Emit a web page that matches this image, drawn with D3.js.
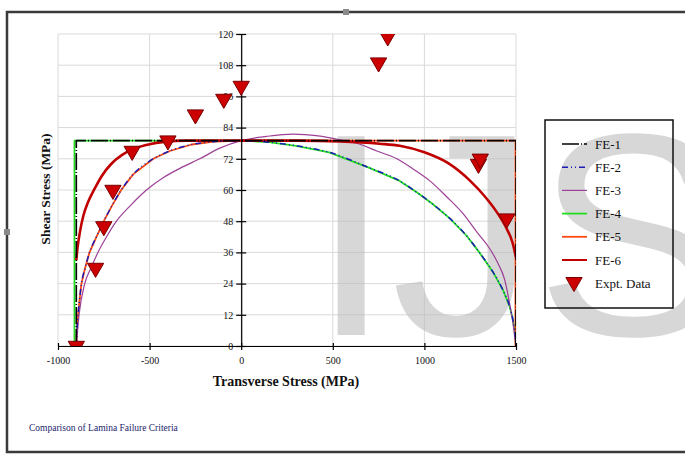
<!DOCTYPE html>
<html>
<head>
<meta charset="utf-8">
<script src="https://cdn.jsdelivr.net/npm/d3@7"></script>
<style>
  html, body { margin: 0; padding: 0; background: #fff; overflow: hidden; }
  svg { display: block; }
</style>
</head>
<body>
<svg id="chart" width="685" height="456"></svg>
<script>
// ---- Axis ticks ----
const xTicks = [-1000, -500, 0, 500, 1000, 1500];
const yTicks = [0, 12, 24, 36, 48, 60, 72, 84, 96, 108, 120];

// ---- Failure envelopes: [transverse stress, shear stress] in MPa ----
// interaction branch on the compressive side (sigma2 < 0)
const compressionBranch = [
  [-900, 0], [-895, 8], [-885, 16], [-872, 24], [-852, 30], [-828, 36],
  [-790, 42], [-750, 48], [-705, 54], [-655, 60], [-590, 66], [-480, 72],
  [-390, 75], [-270, 77.5], [-150, 78.6], [0, 79]
];
// interaction branch on the tensile side (sigma2 > 0)
const tensionBranch = [
  [0, 79], [150, 78.4], [300, 77], [480, 74.5], [700, 68.5], [865, 63.5],
  [960, 59], [1047, 54.5], [1140, 49], [1229, 42.5], [1300, 36], [1374, 28.5],
  [1429, 21.5], [1466, 15], [1485, 9.5], [1495, 4.5], [1500, 0]
];
const fe1 = [[-900, 0], [-900, 79], [1500, 79], [1500, 0]];
const fe2 = compressionBranch.concat(tensionBranch.slice(1));
const fe3 = [
  [-900, 0], [-885, 12], [-854, 24], [-820, 30], [-782, 36], [-735, 42],
  [-681, 48], [-605, 54], [-517, 60], [-420, 65], [-330, 68.5], [-226, 72],
  [-120, 76], [0, 79], [137, 80.6], [283, 81.5], [420, 80.8], [560, 79],
  [640, 77.8], [740, 75], [850, 72], [940, 68], [1030, 63.5], [1120, 57.5],
  [1210, 51], [1290, 43.5], [1356, 37.5], [1400, 32], [1438, 25.5],
  [1466, 16], [1485, 8], [1494, 3], [1500, 0]
];
const fe4 = [[-910, 0], [-910, 79]].concat(tensionBranch);
const fe5 = compressionBranch.concat([[1497, 79], [1497, 0]]);
const fe6 = [
  [-900, 33], [-893, 38], [-880, 44], [-862, 50], [-838, 55], [-800, 60.5],
  [-760, 65.5], [-710, 70], [-650, 73.5], [-580, 76], [-500, 77.6],
  [-420, 78.5], [-300, 79], [0, 79], [300, 79], [538, 78.7], [756, 77.8],
  [865, 77], [1000, 74.5], [1130, 70.3], [1250, 63.5], [1330, 57.5],
  [1400, 51], [1450, 45], [1480, 40], [1500, 34]
];

// ---- Experimental failure points ----
const exptStress = [-900, -795, -750, -700, -595, -400, -250, -95, 0, 750, 800, 1295, 1305, 1450];
const exptShear  = [0, 30, 46, 60, 75, 79, 89, 95, 100, 109, 119, 70, 72, 49];

// ---- Legend entries ----
const seriesNames  = ["FE-1", "FE-2", "FE-3", "FE-4", "FE-5", "FE-6"];
const seriesData   = [fe1, fe2, fe3, fe4, fe5, fe6];
const seriesColors = ["#000000", "#1c1cb4", "#9c3f96", "#22dd22", "#ff4a10", "#c00000"];
const seriesWidths = [1.6, 1.5, 1.2, 1.8, 1.8, 2.6];
const seriesDashes = ["17,2,1,2", "6,3,1,3,1,3", null, null, null, null];
const drawOrder    = [3, 4, 2, 5, 1, 0];

const svg = d3.select("#chart");

const x = d3.scaleLinear().domain([-1000, 1500]).range([58, 516]);
const y = d3.scaleLinear().domain([0, 120]).range([346, 34]);

// frame of the chart object
svg.append("rect")
  .attr("x", 7).attr("y", 12).attr("width", 700).attr("height", 440)
  .attr("fill", "none").attr("stroke", "#3a3a3a").attr("stroke-width", 2.5);
svg.append("rect").attr("x", 343).attr("y", 9).attr("width", 6).attr("height", 6).attr("fill", "#8a8a8a");
svg.append("rect").attr("x", 4).attr("y", 229).attr("width", 6).attr("height", 6).attr("fill", "#8a8a8a");

// gridlines
const grid = svg.append("g").attr("stroke", "#d9d9d9").attr("stroke-width", 1);
grid.selectAll("line.h").data(yTicks).join("line")
  .attr("x1", x(-1000)).attr("x2", x(1500))
  .attr("y1", d => y(d)).attr("y2", d => y(d));
grid.selectAll("line.v").data(xTicks).join("line")
  .attr("x1", d => x(d)).attr("x2", d => x(d))
  .attr("y1", y(0)).attr("y2", y(120));

// watermark lettering
svg.append("text")
  .attr("x", 311).attr("y", 335)
  .attr("font-family", "Liberation Sans, Arial, sans-serif")
  .attr("font-size", 289)
  .attr("fill", "#bdbdbd").attr("opacity", 0.6)
  .text("IJS");

// clip for plotted marks
svg.append("clipPath").attr("id", "plotClip")
  .append("rect")
  .attr("x", x(-1000)).attr("y", y(120))
  .attr("width", x(1500) - x(-1000)).attr("height", y(0) - y(120));

const smooth = d3.line().x(d => x(d[0])).y(d => y(d[1])).curve(d3.curveMonotoneX);
const straight = d3.line().x(d => x(d[0])).y(d => y(d[1]));
const hasCorners = [true, false, false, true, true, false];

const curves = svg.append("g").attr("clip-path", "url(#plotClip)").attr("fill", "none");
drawOrder.forEach(i => {
  const p = curves.append("path")
    .attr("d", (hasCorners[i] ? straight : smooth)(seriesData[i]))
    .attr("stroke", seriesColors[i])
    .attr("stroke-width", seriesWidths[i])
    .attr("stroke-linejoin", "round");
  if (seriesDashes[i]) p.attr("stroke-dasharray", seriesDashes[i]);
});

// axes crossing at the origin
const fmt = d => String(d);
const xAxis = d3.axisBottom(x).tickValues(xTicks).tickFormat(fmt).tickSizeInner(4).tickSizeOuter(0).tickPadding(7);
const yAxis = d3.axisLeft(y).tickValues(yTicks).tickFormat(fmt).tickSizeInner(5).tickSizeOuter(0).tickPadding(3);

const gx = svg.append("g").attr("transform", `translate(0,${y(0)})`).call(xAxis);
gx.selectAll(".tick line").attr("y1", -3).attr("y2", 4);
const gy = svg.append("g").attr("transform", `translate(${x(0)},0)`).call(yAxis);
gy.selectAll(".tick line").attr("x1", -5).attr("x2", 5);

[gx, gy].forEach(g => {
  g.select(".domain").attr("stroke", "#000").attr("stroke-width", 1.2);
  g.selectAll(".tick line").attr("stroke", "#000").attr("stroke-width", 1.2);
  g.selectAll(".tick text")
    .attr("font-family", "Liberation Serif, Times New Roman, serif")
    .attr("font-size", 10).attr("fill", "#111");
});

// axis titles
svg.append("text")
  .attr("x", 286).attr("y", 386)
  .attr("text-anchor", "middle")
  .attr("font-family", "Liberation Serif, Times New Roman, serif")
  .attr("font-weight", "bold").attr("font-size", 14).attr("fill", "#111")
  .text("Transverse Stress (MPa)");
svg.append("text")
  .attr("transform", "translate(50,189) rotate(-90)")
  .attr("text-anchor", "middle")
  .attr("font-family", "Liberation Serif, Times New Roman, serif")
  .attr("font-weight", "bold").attr("font-size", 13.5).attr("fill", "#111")
  .text("Shear Stress (MPa)");

// caption
svg.append("text")
  .attr("x", 29).attr("y", 431)
  .attr("font-family", "Liberation Serif, Times New Roman, serif")
  .attr("font-size", 9.5).attr("fill", "#1c1c6b")
  .text("Comparison of Lamina Failure Criteria");

// experimental points
const tri = d3.symbol().type(d3.symbolTriangle).size(115);
const pts = svg.append("g").attr("clip-path", "url(#plotClip)");
pts.selectAll("path").data(exptStress.map((s, i) => [s, exptShear[i]])).join("path")
  .attr("d", tri)
  .attr("transform", d => `translate(${x(d[0])},${y(d[1])}) rotate(180)`)
  .attr("fill", "#cc0000").attr("stroke", "#7a0000").attr("stroke-width", 1);

// legend
const lg = svg.append("g");
lg.append("rect")
  .attr("x", 545).attr("y", 120).attr("width", 128).attr("height", 188)
  .attr("fill", "none").attr("stroke", "#111").attr("stroke-width", 1.5);
const rowY = i => 144 + i * 23.2;
seriesNames.forEach((name, i) => {
  const l = lg.append("line")
    .attr("x1", 562).attr("x2", 587)
    .attr("y1", rowY(i)).attr("y2", rowY(i))
    .attr("stroke", seriesColors[i])
    .attr("stroke-width", Math.min(seriesWidths[i], 2));
  if (seriesDashes[i]) l.attr("stroke-dasharray", seriesDashes[i]);
  lg.append("text")
    .attr("x", 595).attr("y", rowY(i)).attr("dy", "0.35em")
    .attr("font-family", "Liberation Serif, Times New Roman, serif")
    .attr("font-size", 13).attr("fill", "#111")
    .text(name);
});
lg.append("path")
  .attr("d", tri)
  .attr("transform", `translate(574,${rowY(6) - 1}) rotate(180)`)
  .attr("fill", "#cc0000").attr("stroke", "#7a0000").attr("stroke-width", 1);
lg.append("text")
  .attr("x", 595).attr("y", rowY(6)).attr("dy", "0.35em")
  .attr("font-family", "Liberation Serif, Times New Roman, serif")
  .attr("font-size", 13).attr("fill", "#111")
  .text("Expt. Data");
</script>
</body>
</html>
